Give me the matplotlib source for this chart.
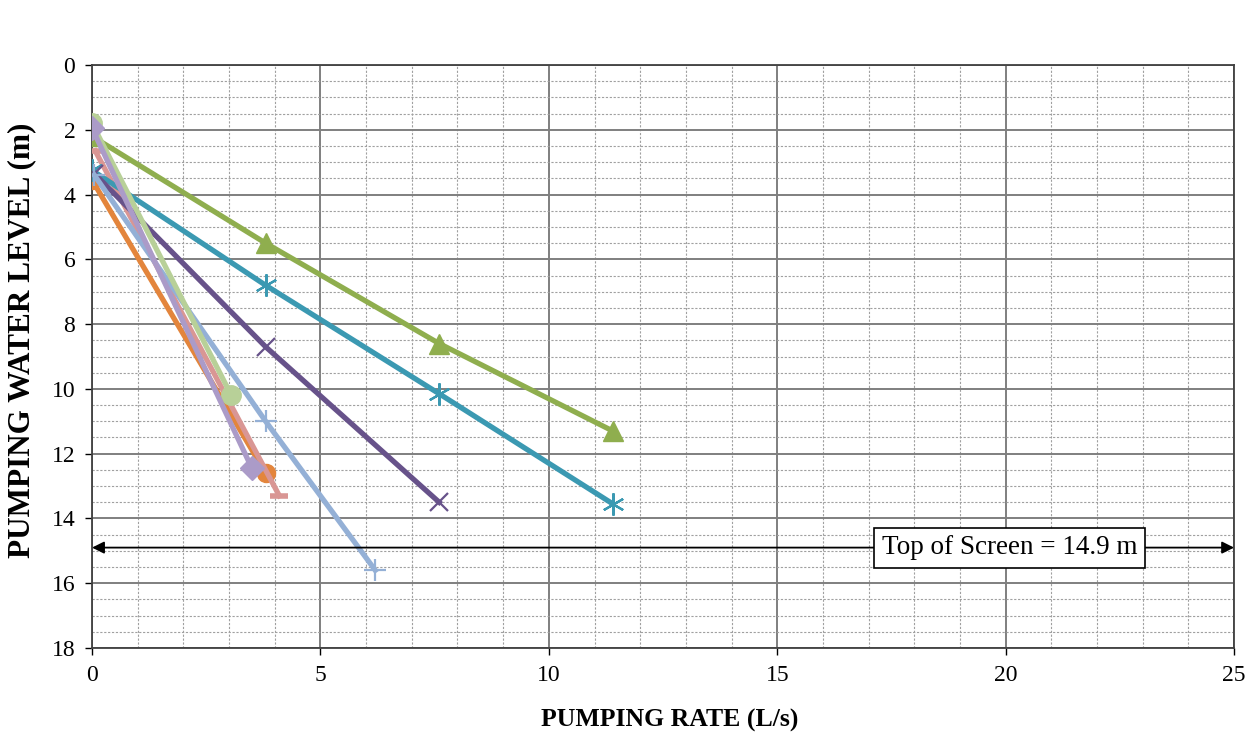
import matplotlib.pyplot as plt
from matplotlib.ticker import MultipleLocator

# ======================================================
# DATA (pumping rate L/s, pumping water level m)
# ======================================================

orange_q = [0.0, 3.8]
orange_wl = [3.55, 12.6]

pink_q = [0.07, 4.1]
pink_wl = [2.65, 13.3]

green_q = [0.0, 3.8, 7.6, 11.4]
green_wl = [2.2, 5.5, 8.6, 11.3]

teal_q = [0.0, 3.8, 7.6, 11.4]
teal_wl = [3.25, 6.8, 10.15, 13.55]

purple_q = [0.05, 3.8, 7.6]
purple_wl = [3.35, 8.7, 13.5]

lblue_q = [0.05, 3.8, 6.2]
lblue_wl = [3.4, 11.0, 15.6]

lgreen_q = [0.0, 3.05]
lgreen_wl = [1.8, 10.2]

lav_q = [0.0, 3.5]
lav_wl = [1.95, 12.45]

top_of_screen = 14.9

# ======================================================
# FIGURE
# ======================================================

plt.rcParams["font.family"] = ["Liberation Serif", "DejaVu Serif"]

fig = plt.figure(figsize=(12.59, 7.5), dpi=100)
ax = fig.add_axes([0.0731, 0.136, 0.9071, 0.7773])

lw = 3.8

ax.plot(orange_q, orange_wl, color="#E3853C", lw=lw, marker="o", ms=13, zorder=3)
ax.plot(pink_q, pink_wl, color="#D99694", lw=lw, marker="_", ms=13, mew=4, zorder=3)
ax.plot(green_q, green_wl, color="#8FAE4E", lw=lw, marker="^", ms=14, zorder=3)
ax.plot(teal_q, teal_wl, color="#3B99B2", lw=lw, marker=(6, 2, 0), ms=16, mew=1.6, zorder=3)
ax.plot(purple_q, purple_wl, color="#67528A", lw=lw, marker="x", ms=13, mew=1.6, zorder=3)
ax.plot(lblue_q, lblue_wl, color="#94B0D6", lw=lw, marker="+", ms=16, mew=1.6, zorder=3)
ax.plot(lgreen_q, lgreen_wl, color="#B8D098", lw=lw, marker="o", ms=14, zorder=3)
ax.plot(lav_q, lav_wl, color="#AB9BC8", lw=lw, marker="D", ms=12, zorder=3)

# ======================================================
# TOP OF SCREEN MARKER
# ======================================================

ax.annotate(
    "",
    xy=(0, top_of_screen),
    xytext=(25, top_of_screen),
    arrowprops=dict(arrowstyle="<|-|>", color="black", lw=1.3,
                    shrinkA=0, shrinkB=0, mutation_scale=18),
    zorder=4
)

ax.text(
    20.08, top_of_screen,
    f"Top of Screen = {top_of_screen} m",
    fontsize=19.5, ha="center", va="center",
    bbox=dict(boxstyle="square,pad=0.28", fc="white", ec="black", lw=1.2),
    zorder=5
)

# ======================================================
# AXES
# ======================================================

ax.set_xlim(0, 25)
ax.set_ylim(18, 0)

ax.xaxis.set_major_locator(MultipleLocator(5))
ax.xaxis.set_minor_locator(MultipleLocator(1))
ax.yaxis.set_major_locator(MultipleLocator(2))
ax.yaxis.set_minor_locator(MultipleLocator(0.5))

ax.grid(which="major", color="#7F7F7F", lw=1.4, ls="-", zorder=0)
ax.grid(which="minor", color="#A0A0A0", lw=0.8, ls=(0, (2, 1.5)), zorder=0)
ax.set_axisbelow(True)

for spine in ax.spines.values():
    spine.set_color("#404040")
    spine.set_linewidth(1.3)

ax.tick_params(which="major", direction="out", length=5, width=1, labelsize=17, pad=7)
ax.tick_params(which="minor", length=0)

ax.set_xlabel("PUMPING RATE (L/s)", fontsize=18.5, fontweight="bold")
ax.set_ylabel("PUMPING WATER LEVEL (m)", fontsize=22.5, fontweight="bold")
ax.xaxis.set_label_coords(0.506, -0.105)
ax.yaxis.set_label_coords(-0.049, 0.528)

fig.savefig("out.png", dpi=100)
